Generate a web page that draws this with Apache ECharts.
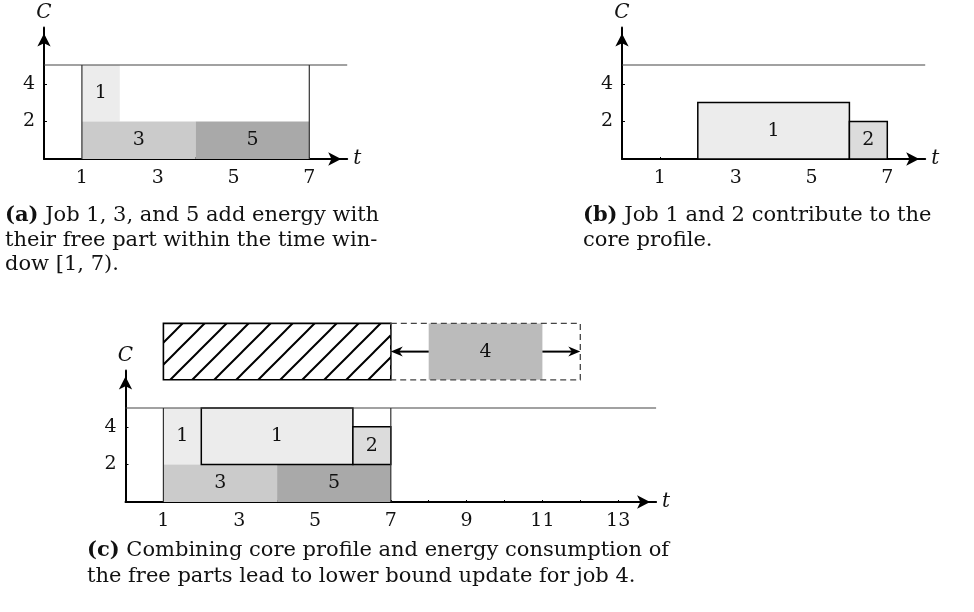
<!DOCTYPE html>
<html><head><meta charset="utf-8">
<script src="https://cdn.jsdelivr.net/npm/echarts@6/dist/echarts.min.js"></script>
<style>html,body{margin:0;padding:0;background:#fff}#c{width:974px;height:612px}</style>
</head><body><div id="c"></div><script>
// ---------- data ----------
const capacity = 5;
const xTicksAB = [1, 3, 5, 7];
const xTicksC = [1, 3, 5, 7, 9, 11, 13];
const xMinorAB = [1, 2, 3, 4, 5, 6, 7];
const xMinorC = [1, 2, 3, 4, 5, 6, 7, 8, 9, 10, 11, 12, 13];
const yTicks = [2, 4];
const xMaxAB = 8, xMaxC = 14, yMax = 7;
const timeWindow = [1, 7];
// [job, start, end, low, high]
const freePartsA = [[1, 1, 2, 2, 5], [3, 1, 4, 0, 2], [5, 4, 7, 0, 2]];
const corePartsB = [[1, 2, 6, 0, 3], [2, 6, 7, 0, 2]];
const freePartsC = [[1, 1, 2, 2, 5], [3, 1, 4, 0, 2], [5, 4, 7, 0, 2]];
const corePartsC = [[1, 2, 6, 2, 5], [2, 6, 7, 2, 4]];
const job4Part = [[4, 8, 11, 6.5, 9.5]];
const blockedWindow = [[0, 1, 7, 6.5, 9.5]];
const shiftRange = [[0, 7, 12, 6.5, 9.5]];
const shiftArrows = [[8, 7, 8], [11, 12, 8]]; // from, to, level
const captionA = ['{b|(a)} Job 1, 3, and 5 add energy with', 'their free part within the time win-', 'dow [1, 7).'];
const captionB = ['{b|(b)} Job 1 and 2 contribute to the', 'core profile.'];
const captionC = ['{b|(c)} Combining core profile and energy consumption of', 'the free parts lead to lower bound update for job 4.'];

// ---------- styles ----------
const SERIF = "'DejaVu Serif', serif";
const jobColor = {1: '#ececec', 2: '#dcdcdc', 3: '#cbcbcb', 4: '#bbbbbb', 5: '#a9a9a9'};
const U = 37.9, V = 18.8;
const LBL = 19, CAP = 21;

function hatch() {
  const s = 22, c = document.createElement('canvas');
  c.width = s; c.height = s;
  const g = c.getContext('2d');
  g.strokeStyle = '#000'; g.lineWidth = 2; g.lineCap = 'square';
  g.beginPath();
  g.moveTo(0, s); g.lineTo(s, 0);
  g.moveTo(-s / 4, s / 4); g.lineTo(s / 4, -s / 4);
  g.moveTo(3 * s / 4, 5 * s / 4); g.lineTo(5 * s / 4, 3 * s / 4);
  g.stroke();
  return c;
}
const hatchPattern = {type: 'pattern', image: hatch(), repeat: 'repeat'};

function rectSeries(grid, data, kind) {
  return {
    type: 'custom', xAxisIndex: grid, yAxisIndex: grid, clip: false, data: data,
    z: kind === 'core' ? 4 : (kind === 'dash' ? 6 : 3),
    renderItem: function (params, api) {
      const job = api.value(0);
      const p0 = api.coord([api.value(1), api.value(4)]);
      const p1 = api.coord([api.value(2), api.value(3)]);
      const shape = {x: p0[0], y: p0[1], width: p1[0] - p0[0], height: p1[1] - p0[1]};
      let style;
      if (kind === 'core') style = {fill: jobColor[job], stroke: '#000', lineWidth: 1.5};
      else if (kind === 'hatch') style = {fill: hatchPattern, stroke: '#000', lineWidth: 1.6};
      else if (kind === 'dash') style = {fill: 'none', stroke: '#444', lineWidth: 1.3, lineDash: [6, 4]};
      else style = {fill: jobColor[job], stroke: null};
      const children = [{type: 'rect', shape: shape, style: style}];
      if (kind === 'free' || kind === 'core' || kind === 'job') {
        children.push({type: 'text', style: {
          text: String(job), x: shape.x + shape.width / 2, y: shape.y + shape.height / 2,
          align: 'center', verticalAlign: 'middle', fontSize: LBL, fontFamily: SERIF, fill: '#111'}});
      }
      return {type: 'group', children: children};
    }
  };
}

function overlaySeries(grid, xMax, withWindow) {
  return {
    type: 'custom', xAxisIndex: grid, yAxisIndex: grid, clip: false, z: 5,
    data: [[0]],
    renderItem: function (params, api) {
      const a = api.coord([0, capacity]), b = api.coord([xMax, capacity]);
      const ch = [{type: 'line', shape: {x1: a[0], y1: a[1], x2: b[0], y2: b[1]}, style: {stroke: '#444', lineWidth: 1.2}}];
      if (withWindow) {
        timeWindow.forEach(function (t) {
          const p = api.coord([t, 0]), q = api.coord([t, capacity]);
          ch.push({type: 'line', shape: {x1: p[0], y1: p[1], x2: q[0], y2: q[1]}, style: {stroke: '#333', lineWidth: 1.2}});
        });
      }
      return {type: 'group', children: ch};
    }
  };
}

function arrowSeries(grid) {
  return {
    type: 'custom', xAxisIndex: grid, yAxisIndex: grid, clip: false, z: 7, data: shiftArrows,
    renderItem: function (params, api) {
      const p = api.coord([api.value(0), api.value(2)]);
      const q = api.coord([api.value(1), api.value(2)]);
      const dir = q[0] > p[0] ? 1 : -1, L = 12, W = 5;
      return {type: 'group', children: [
        {type: 'line', shape: {x1: p[0], y1: p[1], x2: q[0] - dir * L * 0.6, y2: q[1]}, style: {stroke: '#000', lineWidth: 2}},
        {type: 'polygon', shape: {points: [[q[0], q[1]], [q[0] - dir * L, q[1] - W], [q[0] - dir * L * 0.7, q[1]], [q[0] - dir * L, q[1] + W]]}, style: {fill: '#000'}}
      ]};
    }
  };
}

function xAxis(grid, max, labels, minor) {
  return {
    type: 'value', gridIndex: grid, min: 0, max: max, interval: 1,
    axisLine: {show: true, lineStyle: {color: '#000', width: 2}, symbol: ['none', 'arrow'], symbolSize: [10, 13], symbolOffset: [0, -6]},
    axisTick: {show: true, inside: true, length: 2, customValues: minor, lineStyle: {color: '#000', width: 1}},
    axisLabel: {customValues: labels, fontFamily: SERIF, fontSize: LBL, color: '#111', margin: 10},
    splitLine: {show: false},
    name: 't', nameLocation: 'end', nameGap: 6,
    nameTextStyle: {fontFamily: SERIF, fontStyle: 'italic', fontSize: 20, color: '#111', padding: [8, 0, 0, 0]}
  };
}
function yAxis(grid) {
  return {
    type: 'value', gridIndex: grid, min: 0, max: yMax, interval: 1,
    axisLine: {show: true, lineStyle: {color: '#000', width: 2}, symbol: ['none', 'arrow'], symbolSize: [10, 13], symbolOffset: [0, -6]},
    axisTick: {show: true, inside: true, length: 3, customValues: yTicks, lineStyle: {color: '#000', width: 1}},
    axisLabel: {customValues: yTicks, fontFamily: SERIF, fontSize: LBL, color: '#111', margin: 9},
    splitLine: {show: false},
    name: 'C', nameLocation: 'end', nameGap: 5,
    nameTextStyle: {fontFamily: SERIF, fontStyle: 'italic', fontSize: 20, color: '#111', align: 'center'}
  };
}

function captionGraphics(lines, x, y0, dy) {
  return lines.map(function (t, i) {
    return {type: 'text', x: x, y: y0 + i * dy, style: {
      text: t, fontSize: CAP, fontFamily: SERIF, fill: '#111', verticalAlign: 'middle',
      rich: {b: {fontWeight: 'bold', fontSize: CAP, fontFamily: SERIF, fill: '#111'}}}};
  });
}

const chart = echarts.init(document.getElementById('c'), null, {renderer: 'canvas'});
chart.setOption({
  animation: false,
  backgroundColor: '#fff',
  grid: [
    {left: 44, top: 159 - yMax * V, width: xMaxAB * U, height: yMax * V},
    {left: 622, top: 159 - yMax * V, width: xMaxAB * U, height: yMax * V},
    {left: 125.5, top: 502 - yMax * V, width: xMaxC * U, height: yMax * V}
  ],
  xAxis: [xAxis(0, xMaxAB, xTicksAB, xMinorAB), xAxis(1, xMaxAB, xTicksAB, xMinorAB), xAxis(2, xMaxC, xTicksC, xMinorC)],
  yAxis: [yAxis(0), yAxis(1), yAxis(2)],
  series: [
    rectSeries(0, freePartsA, 'free'),
    overlaySeries(0, xMaxAB, true),
    rectSeries(1, corePartsB, 'core'),
    overlaySeries(1, xMaxAB, false),
    rectSeries(2, freePartsC, 'free'),
    rectSeries(2, corePartsC, 'core'),
    overlaySeries(2, xMaxC, true),
    rectSeries(2, blockedWindow, 'hatch'),
    rectSeries(2, job4Part, 'job'),
    rectSeries(2, shiftRange, 'dash'),
    arrowSeries(2)
  ],
  graphic: [].concat(
    captionGraphics(captionA, 5, 216, 24.5),
    captionGraphics(captionB, 583, 216, 24.5),
    captionGraphics(captionC, 87, 551, 26)
  )
});
</script></body></html>
